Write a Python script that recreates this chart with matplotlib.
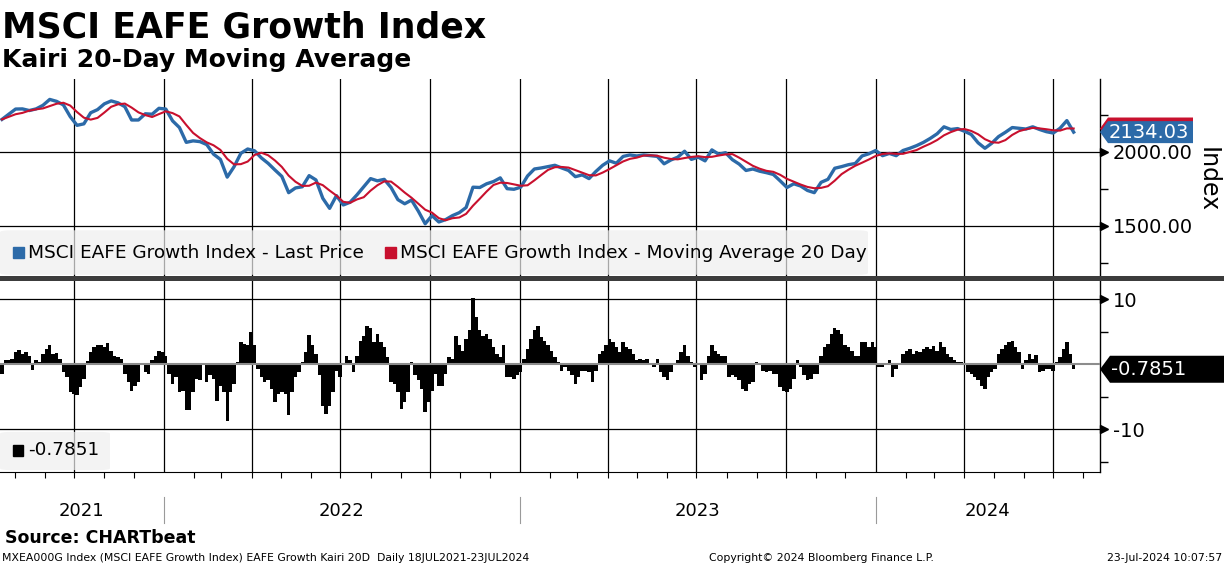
import matplotlib
matplotlib.use("Agg")
import matplotlib.pyplot as plt
import matplotlib.dates as mdates
import matplotlib.transforms as mtransforms
from matplotlib.patches import Polygon, Rectangle, FancyBboxPatch
import pandas as pd

plt.rcParams["font.family"] = ["DejaVu Sans"]

TITLE = "MSCI EAFE Growth Index"
SUBTITLE = "Kairi 20-Day Moving Average"
PRICE_LABEL = "MSCI EAFE Growth Index - Last Price"
MA_LABEL = "MSCI EAFE Growth Index - Moving Average 20 Day"
SOURCE = "Source: CHARTbeat"
FOOT_LEFT = "MXEA000G Index (MSCI EAFE Growth Index) EAFE Growth Kairi 20D  Daily 18JUL2021-23JUL2024"
FOOT_MID = "Copyright\u00a9 2024 Bloomberg Finance L.P."
FOOT_RIGHT = "23-Jul-2024 10:07:57"

# weekly closes (Mondays from 19 Jul 2021)
price = [
    2220, 2255, 2290, 2291, 2280, 2291, 2315, 2355, 2342, 2318,
    2239, 2180, 2190, 2265, 2286, 2325, 2345, 2332, 2306, 2216,
    2216, 2258, 2255, 2295, 2290, 2210, 2165, 2065, 2075, 2070,
    2050, 1985, 1950, 1830, 1900, 1991, 2020, 2008, 1960, 1923,
    1878, 1835, 1725, 1757, 1765, 1840, 1811, 1687, 1619, 1705,
    1642, 1660, 1710, 1765, 1820, 1805, 1815, 1760, 1678, 1650,
    1675, 1600, 1515, 1570, 1527, 1543, 1570, 1590, 1625, 1762,
    1760, 1785, 1800, 1825, 1752, 1748, 1762, 1838, 1885, 1892,
    1901, 1910, 1892, 1875, 1833, 1845, 1820, 1868, 1910, 1940,
    1924, 1970, 1980, 1973, 1980, 1975, 1970, 1920, 1946, 1965,
    2005, 1950, 1965, 1940, 2014, 1985, 1995, 1948, 1918, 1875,
    1885, 1870, 1860, 1848, 1805, 1760, 1785, 1770, 1740, 1725,
    1795, 1815, 1890, 1901, 1914, 1922, 1973, 1988, 2010, 1975,
    1990, 1975, 2010, 2025, 2043, 2065, 2092, 2123, 2170, 2152,
    2158, 2140, 2118, 2062, 2025, 2059, 2104, 2133, 2165, 2160,
    2155, 2170, 2152, 2137, 2128, 2160, 2212, 2134.03,
]

# Kairi (price vs 20d MA, %), every 3.5 days from 19 Jul 2021
kairi = [
    -1.5, 0.6, 0.6, 0.8, 1.9, 2.2, 1.6, 1.9, 1.3, -0.9,
    0.7, 0.4, 1.6, 2.3, 2.9, 1.6, 1.7, 0.8, -1.2, -2.0,
    -4.3, -4.6, -4.8, -3.5, -2.3, 0.5, 1.8, 2.6, 2.9, 3.0,
    2.6, 3.3, 2.1, 1.3, 1.1, 0.8, -1.5, -2.8, -4.1, -3.3,
    -2.8, -0.2, -1.2, -1.5, 0.6, 1.3, 2.1, 1.8, 1.3, -1.5,
    -3.0, -2.0, -4.3, -4.1, -7.1, -7.1, -4.3, -2.3, -2.5, 0.0,
    -2.8, -1.7, -2.3, -5.6, -3.3, -4.3, -8.7, -4.3, -3.0, 0.3,
    3.4, 3.1, 2.9, 5.0, 2.9, -0.7, -2.0, -2.8, -2.5, -3.8,
    -5.8, -4.6, -4.3, -4.6, -7.9, -4.3, -2.0, -1.2, 0.3, 1.8,
    4.5, 2.9, 1.6, -1.7, -6.4, -7.6, -6.4, -4.3, -1.0, -2.0,
    -0.2, 1.3, 0.6, -1.2, 1.3, 3.6, 4.4, 5.9, 5.5, 3.4,
    4.7, 3.4, 2.6, 1.1, -2.8, -3.0, -4.3, -6.9, -5.8, -4.3,
    0.3, -1.7, -2.5, -3.8, -7.4, -5.8, -4.1, -1.5, -3.3, -3.3,
    -1.5, 1.1, 0.8, 4.4, 2.9, 2.1, 3.9, 5.2, 10.2, 7.2,
    5.2, 4.4, 4.7, 3.9, 2.6, 1.6, 1.1, 3.0, -2.0, -2.0,
    -2.3, -1.7, -1.2, 0.8, 2.4, 3.9, 5.2, 5.8, 4.2, 3.6,
    2.9, 2.1, 1.1, 0.4, -1.0, -0.5, -1.0, -1.7, -3.0, -2.0,
    -1.0, -1.0, -1.2, -2.7, -1.0, 1.6, 2.1, 2.9, 3.9, 3.4,
    2.6, 1.8, 3.4, 2.6, 2.4, 1.6, 0.6, 0.8, 0.6, 0.8,
    0.0, -0.5, 0.8, -1.2, -2.0, -2.5, -1.2, 0.2, 0.6, 1.8,
    2.9, 1.3, 0.3, -0.5, -0.2, -2.5, -1.5, 1.3, 2.9, 2.1,
    1.6, 1.3, 1.3, -2.0, -1.7, -2.0, -2.5, -3.8, -4.2, -3.0,
    -2.8, 0.4, 0.0, -1.0, -1.2, -1.0, -1.5, -1.5, -3.5, -4.1,
    -4.3, -3.8, -2.3, 0.7, -0.5, -1.7, -2.5, -2.3, -1.5, -1.5,
    1.3, 2.6, 3.1, 4.7, 5.5, 5.3, 4.7, 2.9, 2.6, 2.1,
    1.3, 1.3, 3.4, 3.4, 2.6, 3.4, 2.6, -0.5, -0.5, -0.2,
    0.6, -2.0, -0.7, -0.2, 1.6, 2.1, 2.4, 1.6, 2.1, 1.9,
    2.4, 2.6, 2.4, 2.8, 2.1, 3.4, 2.6, 1.6, 1.1, 0.6,
    0.4, 0.4, 0.0, -1.2, -1.5, -2.0, -2.5, -3.3, -3.8, -2.0,
    -1.2, -0.7, 1.6, 2.4, 2.9, 3.4, 3.6, 2.6, 1.8, -0.7,
    0.6, 1.6, 0.8, 1.4, -1.2, -1.0, -0.7, -0.8, -1.0, 0.4,
    1.1, 2.4, 3.4, 1.6, -0.7851,
]

BLUE = "#2c6aa8"
RED = "#c8102e"

price_dates = pd.date_range("2021-07-19", periods=len(price), freq="7D")
kairi_dates = pd.date_range("2021-07-19", periods=len(kairi), freq="84h")
ma = pd.Series(price).rolling(4, min_periods=1).mean()

W, H = 1224, 566
fig = plt.figure(figsize=(W / 100, H / 100), dpi=100)
fig.patch.set_facecolor("white")

ax1 = fig.add_axes([0, 1 - 276 / H, 1100 / W, (276 - 79) / H])
ax2 = fig.add_axes([0, 1 - 472 / H, 1100 / W, (472 - 281) / H])

x0 = pd.Timestamp("2021-07-17")
x1 = x0 + pd.Timedelta(days=1128)
quarters = pd.date_range("2021-10-01", "2024-07-01", freq="QS")

for ax in (ax1, ax2):
    ax.set_xlim(x0, x1)
    for q in quarters:
        ax.axvline(q, color="black", lw=0.9, zorder=1)
    for s in ("left", "top", "bottom"):
        ax.spines[s].set_visible(False)
    ax.spines["right"].set_color("black")
    ax.spines["right"].set_linewidth(1)
    ax.yaxis.tick_right()
    ax.tick_params(axis="y", which="major", length=0, pad=9, labelsize=14)
    ax.tick_params(axis="y", which="minor", length=6, width=1, direction="out")

# --- top panel
ax1.plot(price_dates, price, color=BLUE, lw=2.4, zorder=3, solid_joinstyle="round")
ax1.plot(price_dates, ma, color=RED, lw=1.5, zorder=4)
ax1.set_ylim(1162, 2493)
for v in (1500, 2000):
    ax1.axhline(v, color="black", lw=0.9, zorder=1)
ax1.set_yticks([1500, 2000])
ax1.set_yticklabels(["1500.00", "2000.00"])
ax1.set_yticks([1250, 1750, 2250], minor=True)
ax1.set_xticks([])

# --- bottom panel
ax2.bar(kairi_dates, kairi, width=3.5, color="black", lw=0, zorder=2)
ax2.axhline(0, color="#8c8c8c", lw=1.5, zorder=3)
ax2.set_ylim(-16.6, 12.8)
for v in (10, -10):
    ax2.axhline(v, color="black", lw=0.9, zorder=1)
ax2.set_yticks([10, -10])
ax2.set_yticklabels(["10", "-10"])
ax2.set_yticks([-15, -5, 5], minor=True)
ax2.spines["bottom"].set_visible(True)
ax2.spines["bottom"].set_color("black")
ax2.xaxis.set_major_locator(mdates.YearLocator())
ax2.xaxis.set_minor_locator(mdates.MonthLocator())
ax2.tick_params(axis="x", which="major", length=0, labelbottom=False)
ax2.tick_params(axis="x", which="minor", length=4, width=0.8, direction="out")

# arrow heads on major ticks
shift = mtransforms.ScaledTranslation(0.04, 0, fig.dpi_scale_trans)
for ax, vals in ((ax1, [1500, 2000]), (ax2, [10, -10])):
    tr = mtransforms.blended_transform_factory(ax.transAxes, ax.transData)
    ax.plot([1.0] * len(vals), vals, ls="none", marker=">", ms=6, color="black",
            transform=tr + shift, clip_on=False)

# year labels under the x axis
xtr = mtransforms.blended_transform_factory(ax2.transData, ax2.transAxes)
for year in (2021, 2022, 2023, 2024):
    a = max(pd.Timestamp(f"{year}-01-01"), x0)
    b = min(pd.Timestamp(f"{year + 1}-01-01"), x1)
    ax2.text(a + (b - a) / 2, -0.205, str(year), transform=xtr, ha="center", va="center",
             fontsize=13)
    if year > 2021:
        ax2.plot([a, a], [-0.13, -0.268], transform=xtr, color="#9a9a9a", lw=0.8, clip_on=False)

# legends
ax1.add_patch(FancyBboxPatch((0, 0.006), 868 / 1100, 0.226, boxstyle="round,pad=0,rounding_size=0.01",
                             transform=ax1.transAxes, facecolor="#eeeeee", edgecolor="none",
                             alpha=0.7, zorder=5))
ax1.add_patch(Rectangle((13 / 1100, 0.09), 11 / 1100, 0.056, transform=ax1.transAxes,
                        color=BLUE, zorder=6))
ax1.text(28 / 1100, 0.117, PRICE_LABEL, transform=ax1.transAxes, va="center", fontsize=13.3, zorder=6)
ax1.add_patch(Rectangle((385 / 1100, 0.09), 11 / 1100, 0.056, transform=ax1.transAxes,
                        color=RED, zorder=6))
ax1.text(400 / 1100, 0.117, MA_LABEL, transform=ax1.transAxes, va="center", fontsize=13.3, zorder=6)

ax2.add_patch(FancyBboxPatch((0, 0.01), 110 / 1100, 0.2, boxstyle="round,pad=0,rounding_size=0.01",
                             transform=ax2.transAxes, facecolor="#eeeeee", edgecolor="none",
                             alpha=0.7, zorder=5))
ax2.add_patch(Rectangle((13 / 1100, 0.084), 10 / 1100, 0.057, transform=ax2.transAxes,
                        color="black", zorder=6))
ax2.text(28 / 1100, 0.115, f"{kairi[-1]:.4f}", transform=ax2.transAxes, va="center",
         fontsize=13.3, zorder=6)


def last_value_tag(ax, value, color, label, width, height, tip):
    tr = mtransforms.blended_transform_factory(ax.transAxes, ax.transData)
    place = mtransforms.Affine2D() + mtransforms.ScaledTranslation(1.0, value, tr)
    h = height / 2
    verts = [(0, 0), (tip, h), (width, h), (width, -h), (tip, -h)]
    ax.add_patch(Polygon(verts, closed=True, transform=place, facecolor=color,
                         edgecolor="none", clip_on=False, zorder=7))
    if label:
        ax.text(1.0, value, label, transform=mtransforms.offset_copy(tr, fig=fig, x=tip + 1, y=0, units="dots"),
                color="white", fontsize=14, va="center", ha="left", clip_on=False, zorder=8)


last_value_tag(ax1, ma.iloc[-1], RED, None, 93, 22, 8)
last_value_tag(ax1, price[-1], BLUE, f"{price[-1]:.2f}", 93, 22, 8)
last_value_tag(ax2, kairi[-1], "black", f"{kairi[-1]:.4f}", 124, 27, 10)

fig.text(1208 / W, 1 - 180 / H, "Index", rotation=270, ha="center", va="center", fontsize=17)

# panel divider
fig.add_artist(Rectangle((0, 1 - 281 / H), 1, 5 / H, transform=fig.transFigure,
                         facecolor="#3c3c3c", edgecolor="none"))

# header / footer
fig.text(2 / W, 1 - 38 / H, TITLE, fontsize=25, fontweight="bold", va="baseline")
fig.text(2 / W, 1 - 67 / H, SUBTITLE, fontsize=18, fontweight="bold", va="baseline")
fig.text(5 / W, 1 - 543 / H, SOURCE, fontsize=12.5, fontweight="bold", va="baseline")
fig.text(2 / W, 1 - 561 / H, FOOT_LEFT, fontsize=7.8, va="baseline")
fig.text(709 / W, 1 - 561 / H, FOOT_MID, fontsize=7.8, va="baseline")
fig.text(1222 / W, 1 - 561 / H, FOOT_RIGHT, fontsize=7.8, va="baseline", ha="right")

fig.savefig("out.png", dpi=100, facecolor="white")
